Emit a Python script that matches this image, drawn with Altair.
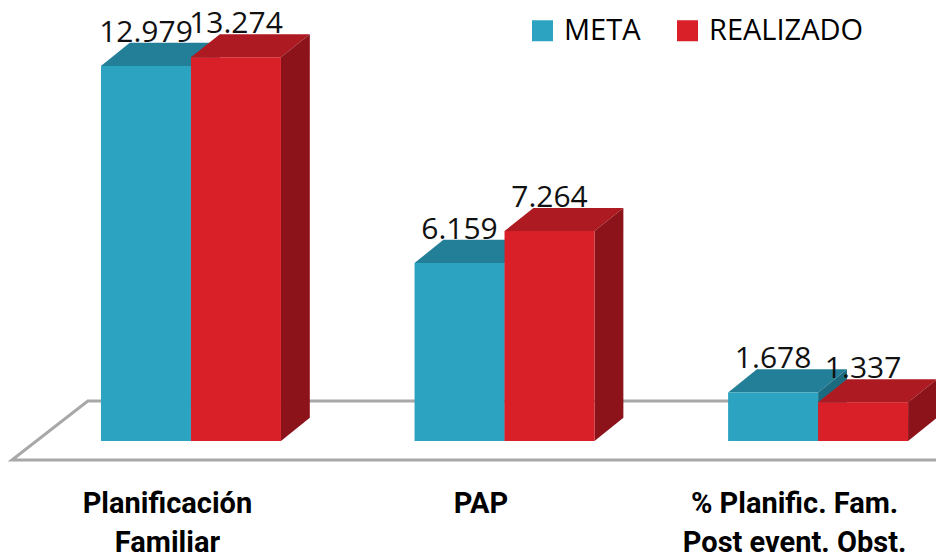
import altair as alt
import pandas as pd

# Chart data
categorias = ["Planificación\nFamiliar", "PAP", "% Planific. Fam.\nPost event. Obst."]
series = ["META", "REALIZADO"]
meta = [12979, 6159, 1678]
realizado = [13274, 7264, 1337]

# 3D bar geometry (x in category units, y in value units)
BAR_W = 0.287
DX = 0.092
DY = 800

front_colors = {"META": "#2CA3C1", "REALIZADO": "#D91F27"}
top_colors = {"META": "#237E97", "REALIZADO": "#AE1A21"}
side_colors = {"META": "#1C6A80", "REALIZADO": "#8C131A"}


def fmt(v):
    return f"{v:,}".replace(",", ".")


front_rows, top_rows, side_rows, label_rows = [], [], [], []
for i, cat in enumerate(categorias):
    for s, (serie, vals) in enumerate(zip(series, [meta, realizado])):
        v = vals[i]
        x0 = i - BAR_W + s * BAR_W
        x1 = x0 + BAR_W
        bid = f"{i}-{serie}"
        front_rows.append(dict(serie=serie, bid=bid, x0=x0, x1=x1, y0=0, y1=v))
        top_rows += [
            dict(serie=serie, bid=bid, y=v, xa=x0, xb=x1, c=top_colors[serie]),
            dict(serie=serie, bid=bid, y=v + DY, xa=x0 + DX, xb=x1 + DX, c=top_colors[serie]),
        ]
        side_rows += [
            dict(serie=serie, bid=bid, x=x1, ya=0, yb=v, c=side_colors[serie]),
            dict(serie=serie, bid=bid, x=x1 + DX, ya=DY, yb=v + DY, c=side_colors[serie]),
        ]
        label_rows.append(dict(serie=serie, x=(x0 + x1) / 2, y=v + DY, txt=fmt(v)))

front = pd.DataFrame(front_rows)
top = pd.DataFrame(top_rows)
side = pd.DataFrame(side_rows)
labels = pd.DataFrame(label_rows)

cats = pd.DataFrame({"x": [i - 0.075 for i in range(len(categorias))], "y": -2480, "txt": categorias})

floor = pd.DataFrame({
    "x": [2.5, -0.571, -0.329, 2.5],
    "y": [-657, -657, 1384, 1384],
    "o": [0, 1, 2, 3],
})

xs = alt.Scale(domain=[-0.609, 2.376], nice=False, zero=False)
ys = alt.Scale(domain=[-4118, 15259], nice=False, zero=False)

floor_layer = alt.Chart(floor).mark_line(color="#A8A8A8", strokeWidth=3, clip=True).encode(
    x=alt.X("x:Q", scale=xs, axis=None),
    y=alt.Y("y:Q", scale=ys, axis=None),
    order="o:O",
)

color_scale = alt.Scale(domain=series, range=[front_colors[s] for s in series])

layers = [floor_layer]
for serie in series:
    t = alt.Chart(top[top.serie == serie]).mark_area(orient="horizontal").encode(
        y=alt.Y("y:Q", scale=ys, axis=None),
        x=alt.X("xa:Q", scale=xs, axis=None),
        x2="xb:Q",
        detail="bid:N",
        color=alt.Color("c:N", scale=None),
    )
    sd = alt.Chart(side[side.serie == serie]).mark_area(orient="vertical").encode(
        x=alt.X("x:Q", scale=xs, axis=None),
        y=alt.Y("ya:Q", scale=ys, axis=None),
        y2="yb:Q",
        detail="bid:N",
        color=alt.Color("c:N", scale=None),
    )
    f = alt.Chart(front[front.serie == serie]).mark_rect().encode(
        x=alt.X("x0:Q", scale=xs, axis=None),
        x2="x1:Q",
        y=alt.Y("y0:Q", scale=ys, axis=None),
        y2="y1:Q",
        color=alt.Color(
            "serie:N",
            scale=color_scale,
            legend=alt.Legend(
                title=None,
                orient="none",
                direction="horizontal",
                legendX=528,
                legendY=16,
                symbolType="square",
                symbolSize=441,
                symbolStrokeWidth=0,
                symbolOpacity=1,
                labelFont="Open Sans",
                labelFontSize=29,
                labelColor="#000000",
                labelOffset=7,
                columnPadding=32,
                padding=0,
            ),
        ),
    )
    layers += [t, sd, f]

value_text = alt.Chart(labels).mark_text(
    font="Open Sans", fontSize=30, color="#111111", align="center", baseline="alphabetic", dy=-1
).encode(
    x=alt.X("x:Q", scale=xs, axis=None),
    y=alt.Y("y:Q", scale=ys, axis=None),
    text="txt:N",
)

cat_text = alt.Chart(cats).mark_text(
    font="Roboto",
    fontSize=29,
    fontWeight="bold",
    color="#000000",
    align="center",
    baseline="alphabetic",
    lineBreak="\n",
    lineHeight=39,
).encode(
    x=alt.X("x:Q", scale=xs, axis=None),
    y=alt.Y("y:Q", scale=ys, axis=None),
    text="txt:N",
)

chart = alt.layer(*layers, value_text, cat_text).properties(
    width=936,
    height=560,
    autosize=alt.AutoSizeParams(type="none"),
    padding=0,
).configure_view(stroke=None)

chart.save("out.html", embed_options={"renderer": "svg", "actions": False})
